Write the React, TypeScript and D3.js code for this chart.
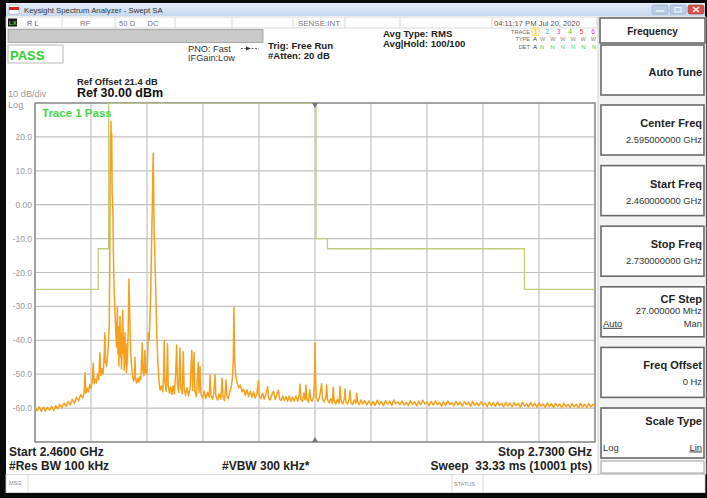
import React from 'react';
import * as d3 from 'd3';

const W = 707;
const H = 498;
const FONT = '"Liberation Sans", Arial, Helvetica, sans-serif';

// sweep setup
const startMHz = 2460;
const stopMHz = 2730;
const refLevel = 30;
const dbPerDiv = 10;
const divisions = 10;
const yTickLabels = ['20.0', '10.0', '0.00', '-10.0', '-20.0', '-30.0', '-40.0', '-50.0', '-60.0'];

// limit mask [MHz, dBm]
const limitMask: [number, number][] = [
  [2460, -25], [2490.5, -25], [2490.5, -13], [2495.5, -13], [2495.5, 30],
  [2595.5, 30], [2595.5, -10], [2601, -10], [2601, -13], [2696, -13], [2696, -25], [2730, -25],
];

// trace 1, read in pieces [MHz, dBm]
const traceLowBand: [number, number][] = [
  [2460, -59.4], [2461, -60.8], [2462, -59.6], [2463, -61.0], [2464, -59.7], [2465, -60.9], [2466, -59.8],
  [2467, -60.6], [2468, -59.5], [2469, -60.7], [2470, -59.3], [2471, -60.2], [2472, -58.9], [2473, -59.9],
  [2474, -58.5], [2475, -59.5], [2476, -58.0], [2477, -59.1], [2478, -57.4], [2479, -58.6], [2480, -56.8],
  [2481, -57.9], [2482, -56.0], [2483, -57.0], [2483.7, -55.4], [2484.1, -49.6], [2484.5, -55.6],
  [2485.2, -54.2], [2485.8, -55.2], [2486.4, -53.0], [2487.0, -54.2], [2487.6, -52.2], [2488.1, -46.7],
  [2488.5, -52.8], [2489.1, -51.4], [2489.6, -52.6], [2490.2, -50.0], [2490.7, -51.6], [2491.3, -43.7],
  [2491.7, -50.4], [2492.3, -48.4], [2492.8, -50.0], [2493.3, -45.5], [2493.7, -37.8], [2494.0, -46.5],
  [2494.5, -47.6], [2495.0, -44.5],
];

const carrierA: [number, number][] = [
  [2495.4, -41.0], [2495.8, -35.0], [2496.0, -20.0], [2496.2, 5.0], [2496.4, 20.0], [2496.6, 24.6],
  [2496.8, 10.0], [2497.0, 21.0], [2497.2, 3.0], [2497.4, 1.4], [2497.6, -3.0], [2497.8, -14.0],
  [2498.1, -24.0], [2498.5, -31.0], [2498.9, -36.5],
];

const betweenCarriers: [number, number][] = [
  [2499.3, -42.0], [2499.7, -30.2], [2500.0, -44.0], [2500.2, -36.0], [2500.4, -47.5], [2500.7, -40.0],
  [2501.0, -33.0], [2501.3, -45.0], [2501.5, -38.0], [2501.7, -48.5], [2502.0, -42.0], [2502.3, -31.1],
  [2502.6, -44.0], [2502.8, -39.0], [2503.0, -48.8], [2503.4, -37.8], [2503.7, -47.0], [2503.9, -41.0],
  [2504.1, -49.5], [2504.5, -46.0], [2504.9, -38.0], [2505.3, -21.9], [2505.6, -30.0], [2506.0, -42.0],
  [2506.5, -47.0], [2507.0, -50.5], [2507.5, -52.0], [2508.0, -50.5], [2508.2, -45.0], [2508.5, -51.5],
  [2509.0, -52.6], [2509.5, -51.2], [2510.0, -52.4], [2510.5, -50.8], [2511.0, -51.6], [2511.4, -46.0],
  [2511.7, -40.8], [2512.0, -49.0], [2512.5, -50.4], [2513.0, -42.9], [2513.3, -49.5], [2513.8, -50.0],
  [2514.2, -47.0], [2514.6, -37.8], [2515.0, -40.0], [2515.4, -34.0], [2515.8, -26.0], [2516.2, -11.3],
];

const carrierB: [number, number][] = [
  [2516.5, -2.0], [2516.8, 10.0], [2517.0, 15.2], [2517.2, 6.0], [2517.4, -8.0], [2517.7, -12.4],
  [2518.0, -20.0], [2518.4, -30.0], [2518.7, -37.8], [2519.2, -46.0], [2519.7, -51.5], [2520.3, -54.7],
];

const midSpurs: [number, number][] = [
  [2521.0, -53.5], [2521.6, -55.2], [2522.0, -50.0], [2522.3, -40.0], [2522.6, -52.0], [2523.2, -55.0],
  [2523.6, -49.0], [2523.9, -41.0], [2524.2, -53.0], [2524.8, -55.6], [2525.4, -53.8], [2526.0, -56.0],
  [2526.6, -53.4], [2527.2, -55.8], [2527.8, -50.0], [2528.3, -41.4], [2528.7, -53.0], [2529.3, -55.4],
  [2529.9, -42.3], [2530.3, -54.0], [2531.0, -55.8], [2531.5, -43.4], [2531.9, -54.2], [2532.6, -56.2],
  [2533.3, -54.0], [2534.0, -56.4], [2534.8, -54.2], [2535.6, -42.9], [2536.0, -54.8], [2536.7, -43.6],
  [2537.1, -55.0], [2537.8, -56.6], [2538.7, -46.5], [2539.1, -55.4], [2539.6, -47.8], [2540.0, -55.8],
  [2540.8, -57.0], [2541.6, -55.0], [2542.4, -57.2], [2543.2, -55.4], [2544.0, -56.8], [2544.4, -50.2],
  [2544.8, -56.2], [2545.6, -57.4], [2546.2, -55.6], [2546.8, -50.2], [2547.2, -56.4], [2548.0, -57.6],
  [2548.8, -55.8], [2549.6, -57.4], [2550.2, -51.2], [2550.6, -56.6], [2551.4, -57.8], [2552.1, -51.7],
  [2552.5, -56.4], [2553.2, -57.2], [2553.9, -55.2], [2554.6, -54.0], [2555.2, -51.0], [2555.6, -46.0],
  [2555.9, -30.3], [2556.1, -40.0], [2556.4, -47.5], [2556.9, -51.0], [2557.5, -52.6], [2558.2, -54.0],
  [2559.0, -53.2], [2559.8, -55.2],
];

const lowerSpurs: [number, number][] = [
  [2560.6, -54.4], [2561.4, -56.2], [2562.2, -54.6], [2563.0, -56.6], [2563.8, -55.0], [2564.6, -56.8],
  [2565.4, -55.2], [2566.2, -57.0], [2567.0, -55.6], [2567.7, -52.0], [2568.1, -56.4], [2568.9, -57.2],
  [2569.7, -55.6], [2570.5, -57.4], [2571.3, -55.8], [2572.2, -53.7], [2572.6, -57.0], [2573.4, -57.6],
  [2574.2, -56.0], [2575.0, -55.0], [2575.8, -57.4], [2576.6, -56.0], [2577.4, -54.7], [2577.9, -57.2],
  [2578.6, -57.8], [2579.4, -56.4], [2580.2, -57.8], [2581.0, -56.6], [2581.8, -58.0], [2582.6, -56.4],
  [2583.4, -58.0], [2584.2, -56.8], [2585.0, -58.0], [2585.8, -56.4], [2586.6, -58.0], [2587.4, -56.2],
  [2587.8, -53.0], [2588.2, -57.4], [2589.0, -58.0], [2589.6, -55.6], [2590.2, -57.6], [2590.6, -53.2],
  [2591.0, -57.2], [2591.8, -58.2], [2592.5, -54.6], [2592.9, -57.4], [2593.6, -58.0], [2594.4, -56.4],
  [2594.8, -50.0], [2595.0, -40.8], [2595.2, -49.0], [2595.6, -56.8], [2596.4, -58.0], [2597.1, -57.0],
  [2598.2, -52.8], [2598.6, -57.2], [2599.4, -58.2], [2600.2, -57.0], [2600.6, -53.2], [2601.0, -57.4],
];

const upperSpurs: [number, number][] = [
  [2601.8, -58.4], [2602.6, -57.2], [2603.4, -58.6], [2603.8, -53.8], [2604.2, -57.8], [2605.0, -58.8],
  [2605.8, -57.4], [2606.6, -58.6], [2607.1, -53.6], [2607.5, -57.6], [2608.3, -58.8], [2609.1, -57.4],
  [2609.5, -54.4], [2609.9, -58.2], [2610.7, -58.8], [2611.5, -57.4], [2611.9, -54.8], [2612.3, -58.4],
  [2613.1, -58.9], [2613.9, -57.6], [2614.7, -58.6], [2615.1, -55.6], [2615.5, -58.0], [2616.3, -59.0],
  [2617.2, -57.6], [2618.0, -58.8], [2619.0, -57.8], [2620.0, -59.0],
];

// flat tail, one reading per 1 MHz bin starting at tailStartMHz
const tailStartMHz = 2621;
const tailDbm = [
  -57.9, -59.1, -58.0, -59.2, -57.7, -58.9, -58.1, -59.3, -57.8, -58.8,
  -58.0, -59.2, -57.6, -58.7, -58.2, -59.0, -57.9, -59.1, -58.3, -59.2,
  -57.8, -58.9, -58.1, -59.3, -58.0, -59.0, -57.7, -58.8, -58.2, -59.3,
  -58.0, -59.1, -57.9, -59.0, -58.3, -59.4, -58.1, -59.2, -57.9, -59.0,
  -58.4, -59.3, -58.0, -59.1, -58.2, -59.4, -58.1, -59.0, -58.3, -59.5,
  -58.0, -59.2, -58.4, -59.3, -58.1, -59.1, -58.5, -59.6, -58.2, -59.3,
  -58.4, -59.5, -58.2, -59.2, -58.6, -59.6, -58.3, -59.4, -58.5, -59.6,
  -58.4, -59.3, -58.6, -59.7, -58.3, -59.4, -58.7, -59.6, -58.4, -59.5,
  -58.6, -59.7, -58.5, -59.4, -58.8, -59.8, -58.5, -59.6, -58.7, -59.8,
  -58.6, -59.5, -58.8, -59.9, -58.6, -59.6, -58.9, -59.8, -58.7, -59.6,
  -58.9, -59.9, -58.6, -59.7, -58.8, -59.8, -58.7, -59.6, -58.9, -59.5,
];

// softkey panel
const softKeyTitles = ['Center Freq', 'Start Freq', 'Stop Freq', 'CF Step', 'Freq Offset', 'Scale Type'];
const softKeyValues = ['2.595000000 GHz', '2.460000000 GHz', '2.730000000 GHz', '27.000000 MHz', '0 Hz', ''];
const softKeyToggles: ([string, string] | null)[] = [null, null, null, ['Auto', 'Man'], null, ['Log', 'Lin']];

const statusCells = ['RF', '50 Ω', 'DC'];
const traceDigits = ['1', '2', '3', '4', '5', '6'];
const traceDigitColors = ['#e8b400', '#29c4e8', '#d03cd0', '#2ec82e', '#e83030', '#c040e0'];

export default function App() {
  const left = 35, right = 595, top = 103, bottom = 442;
  const x = d3.scaleLinear().domain([startMHz, stopMHz]).range([left, right]);
  const y = d3.scaleLinear().domain([refLevel - dbPerDiv * divisions, refLevel]).range([bottom, top]);

  const xGrid = d3.range(divisions + 1).map(i => startMHz + (i * (stopMHz - startMHz)) / divisions);
  const yGrid = d3.range(divisions + 1).map(i => refLevel - i * dbPerDiv);

  const tail: [number, number][] = tailDbm.map((v, i) => [tailStartMHz + i, v]);
  const trace = [...traceLowBand, ...carrierA, ...betweenCarriers, ...carrierB, ...midSpurs, ...lowerSpurs, ...upperSpurs, ...tail];

  const line = d3.line<[number, number]>().x(d => x(d[0])).y(d => y(d[1]));

  const txt = { fontFamily: FONT } as React.CSSProperties;
  const cx = x((startMHz + stopMHz) / 2);

  return (
    <svg width={W} height={H} viewBox={`0 0 ${W} ${H}`} style={{ position: 'absolute', left: 0, top: 0, display: 'block' }}>
      <defs>
        <linearGradient id="titleGrad" x1="0" y1="0" x2="0" y2="1">
          <stop offset="0" stopColor="#e4eef9" />
          <stop offset="1" stopColor="#c6d8ee" />
        </linearGradient>
        <clipPath id="plotClip">
          <rect x={left} y={top} width={right - left} height={bottom - top} />
        </clipPath>
      </defs>

      {/* window frame */}
      <rect x={0} y={0} width={W} height={H} fill="#0a0a0a" />
      <rect x={6} y={3} width={W - 8} height={490} fill="#ffffff" />

      {/* title bar */}
      <rect x={6} y={3} width={W - 8} height={13} fill="url(#titleGrad)" />
      <rect x={9} y={5} width={10} height={9} fill="#fff" stroke="#999" strokeWidth={0.5} />
      <rect x={9} y={7} width={10} height={3} fill="#d22" />
      <text x={24} y={12.5} fontSize={7.8} fill="#333" style={txt}>Keysight Spectrum Analyzer - Swept SA</text>
      <rect x={652} y={5} width={16} height={9} rx={2} fill="#b9cde6" stroke="#8aa4c6" strokeWidth={0.6} />
      <rect x={670} y={5} width={16} height={9} rx={2} fill="#b9cde6" stroke="#8aa4c6" strokeWidth={0.6} />
      <rect x={688} y={5} width={16} height={9} rx={2} fill="#d9534a" stroke="#a33" strokeWidth={0.6} />
      <line x1={656} y1={11} x2={664} y2={11} stroke="#fff" strokeWidth={1.2} />
      <rect x={675} y={7.5} width={6} height={4.5} fill="none" stroke="#fff" strokeWidth={0.9} />
      <path d="M693,7 L699,12 M699,7 L693,12" stroke="#fff" strokeWidth={1.3} />

      {/* status row */}
      <rect x={6} y={17} width={591} height={11} fill="#fff" stroke="#c8c8c8" strokeWidth={0.7} />
      <rect x={8} y={18.5} width={9} height={8} fill="#1a1a1a" />
      <text x={9} y={25} fontSize={6} fill="#3ddc3d" fontWeight="bold" style={txt}>LX</text>
      <text x={27} y={25.5} fontSize={7.5} fill="#666" style={txt}>R L</text>
      {[62, 115, 175, 232, 293, 345, 400, 492].map(v => (
        <line key={v} x1={v} y1={17} x2={v} y2={28} stroke="#c8c8c8" strokeWidth={0.7} />
      ))}
      {statusCells.map((s, i) => (
        <text key={s} x={[85, 127, 153][i]} y={25.5} fontSize={7.5} fill="#777" textAnchor="middle" style={txt}>{s}</text>
      ))}
      <text x={319} y={25.5} fontSize={8} fill="#777" textAnchor="middle" style={txt}>SENSE:INT</text>
      <text x={494} y={25.5} fontSize={7.6} fill="#555" style={txt}>04:11:17 PM Jul 20, 2020</text>

      {/* gray message bar */}
      <rect x={8} y={29.5} width={255} height={13} fill="#c9c9c9" stroke="#9a9a9a" strokeWidth={0.8} />

      {/* PASS box */}
      <rect x={8} y={45} width={55} height={18} fill="#fff" stroke="#b0b0b0" strokeWidth={0.9} />
      <text x={10} y={59.5} fontSize={13} fontWeight="bold" fill="#30d030" style={txt}>PASS</text>

      {/* acquisition annotations */}
      <text x={188} y={51.5} fontSize={9.2} fill="#333" style={txt}>PNO: Fast</text>
      <text x={188} y={60.5} fontSize={9.2} fill="#333" style={txt}>IFGain:Low</text>
      <line x1={241} y1={48.5} x2={259} y2={48.5} stroke="#444" strokeWidth={0.8} strokeDasharray="2,1.5" />
      <path d="M246,46.5 L251,48.5 L246,50.5 Z" fill="#333" />
      <text x={268} y={48.5} fontSize={9.6} fontWeight="bold" fill="#222" style={txt}>Trig: Free Run</text>
      <text x={268} y={58.5} fontSize={9.6} fontWeight="bold" fill="#222" style={txt}>#Atten: 20 dB</text>
      <text x={383} y={36.5} fontSize={9.6} fontWeight="bold" fill="#222" style={txt}>Avg Type: RMS</text>
      <text x={383} y={46.5} fontSize={9.6} fontWeight="bold" fill="#222" style={txt}>Avg|Hold: 100/100</text>

      {/* trace table */}
      <text x={530} y={33.5} fontSize={5.6} fill="#666" textAnchor="end" style={txt}>TRACE</text>
      <text x={530} y={41} fontSize={5.6} fill="#666" textAnchor="end" style={txt}>TYPE</text>
      <text x={530} y={48.5} fontSize={5.6} fill="#666" textAnchor="end" style={txt}>DET</text>
      <rect x={532} y={28} width={7} height={7.5} fill="#fff8d0" stroke="#e8c000" strokeWidth={0.5} />
      {traceDigits.map((d, i) => (
        <text key={d} x={535.5 + i * 11.5} y={34} fontSize={6.6} fill={traceDigitColors[i]} textAnchor="middle" style={txt}>{d}</text>
      ))}
      <text x={533} y={41} fontSize={6} fill="#333" style={txt}>A</text>
      <text x={540} y={41} fontSize={5.6} fill="#8a8a8a" textLength={56} style={txt}>WWWWWW</text>
      <text x={533} y={48.5} fontSize={6} fill="#333" style={txt}>A</text>
      <text x={540} y={48.5} fontSize={5.6} fill="#3dd23d" textLength={56} style={txt}>NNNNNN</text>

      {/* reference annotations */}
      <text x={77} y={84.5} fontSize={9.4} fontWeight="bold" fill="#222" style={txt}>Ref Offset 21.4 dB</text>
      <text x={77} y={96.5} fontSize={12.5} fontWeight="bold" fill="#111" style={txt}>Ref 30.00 dBm</text>
      <text x={8} y={97} fontSize={9.2} fill="#999" style={txt}>10 dB/div</text>
      <text x={8} y={108} fontSize={9.2} fill="#999" style={txt}>Log</text>

      {/* plot grid */}
      <rect x={left} y={top} width={right - left} height={bottom - top} fill="#fff" />
      {xGrid.map(f => (
        <line key={'gx' + f} x1={x(f)} y1={top} x2={x(f)} y2={bottom} stroke="#c2c2c2" strokeWidth={1.2} />
      ))}
      {yGrid.map(v => (
        <line key={'gy' + v} x1={left} y1={y(v)} x2={right} y2={y(v)} stroke="#c2c2c2" strokeWidth={1.2} />
      ))}
      <rect x={left} y={top} width={right - left} height={bottom - top} fill="none" stroke="#8e8e8e" strokeWidth={1.5} />
      {yTickLabels.map((t, i) => (
        <text key={t} x={32} y={y(refLevel - (i + 1) * dbPerDiv) + 3} fontSize={8.5} fill="#9a9a9a" textAnchor="end" style={txt}>{t}</text>
      ))}

      <g clipPath="url(#plotClip)">
        <path d={line(limitMask) ?? ''} fill="none" stroke="#c4cc7c" strokeWidth={1.3} />
        <path d={line(trace) ?? ''} fill="none" stroke="#f5a11d" strokeWidth={1.5} strokeLinejoin="round" />
      </g>

      {/* center markers */}
      <path d={`M${cx - 3},${top} L${cx + 3},${top} L${cx},${top + 5} Z`} fill="#777" />
      <path d={`M${cx - 3},${bottom} L${cx + 3},${bottom} L${cx},${bottom - 5} Z`} fill="#777" />

      <text x={42} y={117} fontSize={11.5} fontWeight="bold" fill="#44d844" style={txt}>Trace 1 Pass</text>

      {/* bottom annotations */}
      <text x={9} y={456} fontSize={12} fontWeight="bold" fill="#222" style={txt}>Start 2.4600 GHz</text>
      <text x={9} y={469.5} fontSize={12} fontWeight="bold" fill="#222" style={txt}>#Res BW 100 kHz</text>
      <text x={222} y={469.5} fontSize={12} fontWeight="bold" fill="#222" style={txt}>#VBW 300 kHz*</text>
      <text x={592} y={456} fontSize={12} fontWeight="bold" fill="#222" textAnchor="end" style={txt}>Stop 2.7300 GHz</text>
      <text x={592} y={469.5} fontSize={12} fontWeight="bold" fill="#222" textAnchor="end" style={{ ...txt, whiteSpace: 'pre' }}>Sweep  33.33 ms (10001 pts)</text>

      {/* MSG / STATUS row */}
      <rect x={6} y={474.5} width={W - 8} height={18} fill="#fff" stroke="#cfcfcf" strokeWidth={0.8} />
      <line x1={28} y1={474.5} x2={28} y2={492.5} stroke="#cfcfcf" strokeWidth={0.8} />
      <line x1={452} y1={474.5} x2={452} y2={492.5} stroke="#cfcfcf" strokeWidth={0.8} />
      <line x1={483} y1={474.5} x2={483} y2={492.5} stroke="#cfcfcf" strokeWidth={0.8} />
      <text x={9} y={485} fontSize={5.5} fill="#888" style={txt}>MSG</text>
      <text x={454} y={485.5} fontSize={5.5} fill="#888" style={txt}>STATUS</text>

      {/* softkey panel */}
      <rect x={598} y={17} width={108} height={457} fill="#f4f4f4" stroke="#c8c8c8" strokeWidth={0.8} />
      <rect x={600} y={18} width={105} height={25} fill="#fff" stroke="#6a6a6a" strokeWidth={1.6} />
      <text x={652.5} y={34.5} fontSize={10} fontWeight="bold" fill="#222" textAnchor="middle" style={txt}>Frequency</text>
      <rect x={601} y={45} width={103} height={50} fill="#fff" stroke="#6a6a6a" strokeWidth={1.6} />
      <text x={702} y={76} fontSize={11} fontWeight="bold" fill="#222" textAnchor="end" style={txt}>Auto Tune</text>
      {softKeyTitles.map((t, i) => {
        const ky = 105 + i * 60.6;
        const tog = softKeyToggles[i];
        const compact = tog && softKeyValues[i];
        return (
          <g key={t}>
            <rect x={601} y={ky} width={103} height={50} fill="#fff" stroke="#6a6a6a" strokeWidth={1.6} />
            <text x={702} y={ky + (compact ? 16 : tog ? 17 : 22)} fontSize={11} fontWeight="bold" fill="#222" textAnchor="end" style={txt}>{t}</text>
            {softKeyValues[i] && (
              <text x={702} y={ky + (compact ? 27.5 : 38)} fontSize={9.4} fill="#333" textAnchor="end" style={txt}>{softKeyValues[i]}</text>
            )}
            {tog && (
              <>
                <text x={603} y={ky + (compact ? 40 : 42.5)} fontSize={9.4} fill="#333" textDecoration={i === 3 ? 'underline' : 'none'} style={txt}>{tog[0]}</text>
                <text x={702} y={ky + (compact ? 40 : 42.5)} fontSize={9.4} fill="#333" textAnchor="end" textDecoration={i === 5 ? 'underline' : 'none'} style={txt}>{tog[1]}</text>
              </>
            )}
          </g>
        );
      })}
      <rect x={601} y={461} width={103} height={12} fill="#fff" stroke="#a0a0a0" strokeWidth={1} />
    </svg>
  );
}
